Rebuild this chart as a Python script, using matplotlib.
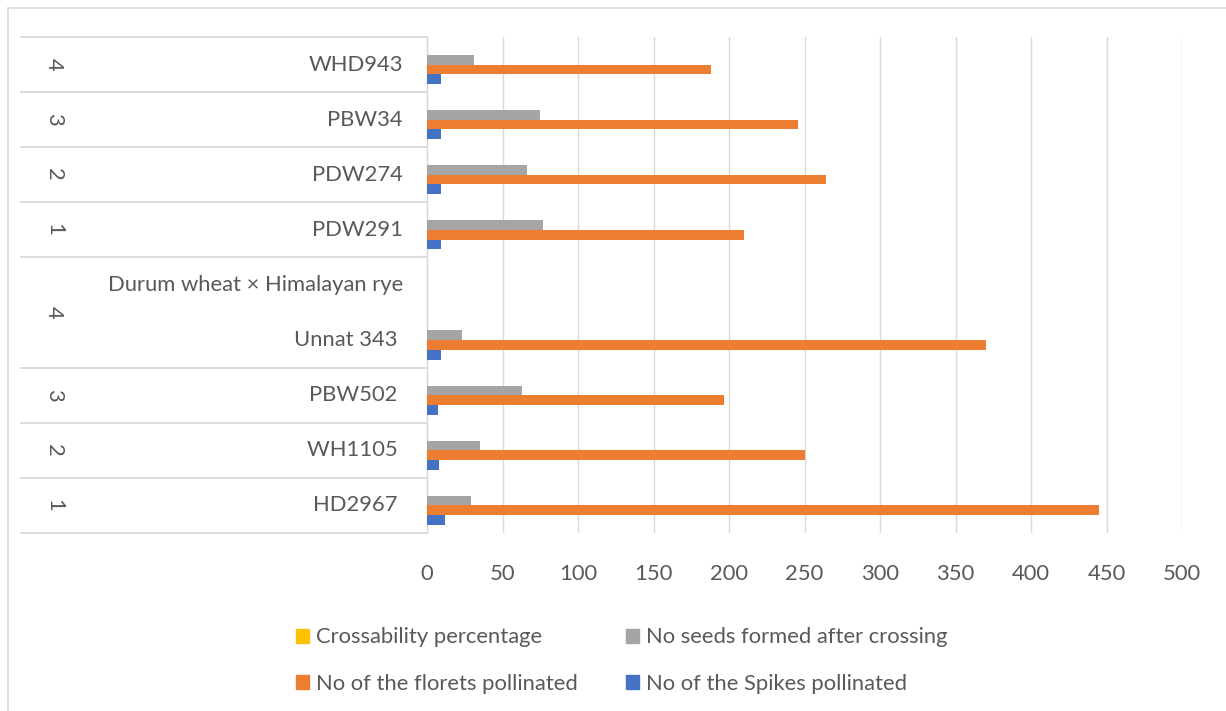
import numpy as np
import matplotlib
matplotlib.use("Agg")
import matplotlib.pyplot as plt
from matplotlib.patches import Patch, Rectangle

plt.rcParams['font.family'] = ['Lato', 'DejaVu Sans']

# categories, bottom to top
varieties = ['HD2967 ', 'WH1105 ', 'PBW502 ', 'Unnat 343 ', 'Durum wheat × Himalayan rye',
             'PDW291', 'PDW274', 'PBW34', 'WHD943']
outer_labels = ['1', '2', '3', '4', '1', '2', '3', '4']
outer_first = [0, 1, 2, 3, 5, 6, 7, 8]
outer_last = [0, 1, 2, 4, 5, 6, 7, 8]

spikes = [12, 8, 7, 9, 0, 9, 9, 9, 9]
florets = [445, 250, 197, 370, 0, 210, 264, 246, 188]
no_seeds = [29, 35, 63, 23, 0, 77, 66, 75, 31]
crossability = [0, 0, 0, 0, 0, 0, 0, 0, 0]

series = [
    ('No of the Spikes pollinated', spikes, '#4472C4'),
    ('No of the florets pollinated', florets, '#ED7D31'),
    ('No seeds formed after crossing', no_seeds, '#A5A5A5'),
    ('Crossability percentage', crossability, '#FFC000'),
]

TXT = '#595959'
GRID = '#D9D9D9'
FS = 15.8

W, H = 1226, 711
fig = plt.figure(figsize=(W / 100, H / 100), dpi=100)
ax = fig.add_axes([427 / W, 1 - 533 / H, 755 / W, 496 / H])

y = np.arange(len(varieties))
bh = 0.176
for k, (name, vals, col) in enumerate(series):
    ax.barh(y + (k - 1.5) * bh, vals, height=bh, color=col, label=name, zorder=3)

ax.set_xlim(0, 500)
ax.set_ylim(-0.5, len(varieties) - 0.5)
ax.set_xticks(np.arange(0, 501, 50))
ax.set_yticks([])
ax.tick_params(axis='x', length=0, pad=22, labelsize=FS, labelcolor=TXT)
ax.grid(axis='x', color=GRID, lw=1.0, zorder=0)
for s in ['top', 'right', 'bottom']:
    ax.spines[s].set_visible(False)
ax.spines['left'].set_color(GRID)
ax.spines['left'].set_linewidth(1.0)

# multi-level category labels
px = 1 / 755
tr = ax.get_yaxis_transform()
for i, lab in enumerate(varieties):
    ax.text(-24 * px, i, lab, transform=tr, ha='right', va='center',
            fontsize=FS, color=TXT)

bounds = set()
for lab, a, b in zip(outer_labels, outer_first, outer_last):
    ax.text((54 - 427) * px, (a + b) / 2, lab, transform=tr, ha='center', va='center',
            rotation=270, fontsize=FS, color=TXT)
    bounds.add(a - 0.5)
    bounds.add(b + 0.5)
for yb in sorted(bounds):
    ax.plot([(21 - 427) * px, 0], [yb, yb], transform=tr, color=GRID, lw=1.3,
            clip_on=False, zorder=1)

# chart border (cropped at right/bottom)
fig.add_artist(Rectangle((8 / W, -0.5), 2, 1.5 - 8 / H, transform=fig.transFigure,
                         fill=False, edgecolor=GRID, lw=1.2))

order = [3, 1, 2, 0]
handles = [Patch(color=series[k][2]) for k in order]
labels = [series[k][0] for k in order]
fig.legend(handles, labels, ncol=2, loc='center',
           bbox_to_anchor=(622 / W, 1 - 660.5 / H), frameon=False,
           fontsize=FS, labelcolor=TXT, handlelength=0.6, handleheight=0.6,
           handletextpad=0.32, columnspacing=2.2, labelspacing=1.2,
           borderpad=0, borderaxespad=0)

fig.savefig('out.png', dpi=100)
